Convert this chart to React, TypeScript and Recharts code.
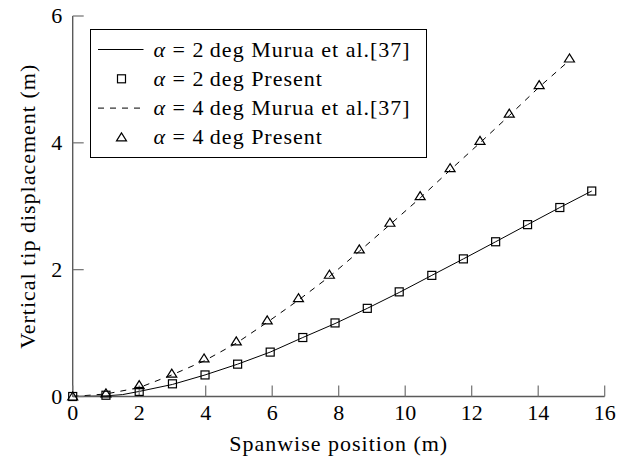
import React from 'react';
import { ComposedChart, Line, Scatter, XAxis, YAxis, Legend } from 'recharts';

// ---- data ----
const xTicks = [0, 2, 4, 6, 8, 10, 12, 14, 16];
const yTicks = [0, 2, 4, 6];

const present2X = [0, 1.0, 2.0, 3.0, 3.98, 4.96, 5.94, 6.92, 7.89, 8.86, 9.82, 10.8, 11.75, 12.72, 13.68, 14.65, 15.61];
const present2Y = [0, 0.02, 0.08, 0.2, 0.34, 0.51, 0.7, 0.93, 1.16, 1.39, 1.65, 1.91, 2.17, 2.44, 2.71, 2.98, 3.24];

const present4X = [0, 1.0, 2.0, 2.98, 3.95, 4.92, 5.85, 6.79, 7.72, 8.62, 9.54, 10.45, 11.35, 12.25, 13.13, 14.03, 14.94];
const present4Y = [0, 0.05, 0.18, 0.36, 0.6, 0.87, 1.2, 1.55, 1.92, 2.32, 2.74, 3.16, 3.6, 4.03, 4.46, 4.91, 5.33];

const murua2X = [0, 1.0, 1.5, 2.0, 3.0, 3.98, 4.96, 5.94, 6.92, 7.89, 8.86, 9.82, 10.8, 11.75, 12.72, 13.68, 14.65, 15.61];
const murua2Y = [0, 0.01, 0.03, 0.08, 0.19, 0.34, 0.51, 0.7, 0.93, 1.15, 1.39, 1.64, 1.91, 2.17, 2.44, 2.71, 2.98, 3.24];

const murua4X = [0, 1.0, 2.0, 2.98, 3.95, 4.92, 5.85, 6.79, 7.72, 8.62, 9.54, 10.45, 11.35, 12.25, 13.13, 14.03, 14.94];
const murua4Y = [0, 0.04, 0.14, 0.34, 0.56, 0.84, 1.17, 1.52, 1.89, 2.29, 2.71, 3.13, 3.57, 4.0, 4.43, 4.88, 5.3];

const seriesLabels = [
  'α = 2\u2009deg Murua et al.[37]',
  'α = 2\u2009deg Present',
  'α = 4\u2009deg Murua et al.[37]',
  'α = 4\u2009deg Present',
];
const xAxisTitle = 'Spanwise position (m)';
const yAxisTitle = 'Vertical tip displacement (m)';

const toPoints = (xs: number[], ys: number[]) => xs.map((x, i) => ({ x, y: ys[i] }));
const present2 = toPoints(present2X, present2Y);
const present4 = toPoints(present4X, present4Y);
const murua2 = toPoints(murua2X, murua2Y);
const murua4 = toPoints(murua4X, murua4Y);
// tick-mark anchors on the axes (drawn through the library's scales)
const xTickMarks = xTicks.map((x) => ({ x, y: 0 }));
const yTickMarks = yTicks.map((y) => ({ x: 0, y }));

// ---- styles ----
const FONT = 'Liberation Serif';
const FS = 22;
const LS = 1;
const AXIS = '#5a5a5a';
const TICK = '#707070';
const TICK_LEN = 11;
const textStyle: React.CSSProperties = { fontFamily: FONT, fontSize: FS };
const titleStyle: React.CSSProperties = { fontFamily: FONT, fontSize: FS, letterSpacing: LS };

const XTick = (props: any) => {
  const { x, y, payload } = props;
  return (
    <text x={x} y={y + 23} textAnchor="middle" style={textStyle} fill="#000">
      {payload.value}
    </text>
  );
};

const YTick = (props: any) => {
  const { x, y, payload } = props;
  return (
    <text x={x - 10.5} y={y + 7} textAnchor="end" style={textStyle} fill="#000">
      {payload.value}
    </text>
  );
};

const XTickMark = (p: any) => (
  <line x1={p.cx} y1={p.cy} x2={p.cx} y2={p.cy - TICK_LEN} stroke={TICK} strokeWidth={1.2} />
);
const YTickMark = (p: any) => (
  <line x1={p.cx} y1={p.cy} x2={p.cx + TICK_LEN} y2={p.cy} stroke={TICK} strokeWidth={1.2} />
);

const SquareMark = (p: any) => (
  <rect x={p.cx - 4} y={p.cy - 4} width={8} height={8} fill="none" stroke="#000" strokeWidth={1.2} />
);
const TriMark = (p: any) => (
  <polygon
    points={`${p.cx},${p.cy - 4.5} ${p.cx - 5},${p.cy + 3.5} ${p.cx + 5},${p.cy + 3.5}`}
    fill="none"
    stroke="#000"
    strokeWidth={1.2}
  />
);

const LabelText = ({ label }: { label: string }) => (
  <>
    <tspan fontStyle="italic">{label.charAt(0)}</tspan>
    <tspan>{label.slice(1)}</tspan>
  </>
);

const LegendBox = () => {
  const rowY = (i: number) => 20.5 + 29.3 * i;
  return (
    <svg width={338} height={130} style={{ display: 'block' }}>
      <rect x={0.5} y={0.5} width={336} height={128} fill="#fff" stroke="#000" strokeWidth={1} />
      {seriesLabels.map((lab, i) => {
        const cy = rowY(i);
        return (
          <g key={i}>
            {i === 0 && <line x1={8} y1={cy} x2={53.5} y2={cy} stroke="#000" strokeWidth={1} />}
            {i === 2 && (
              <line x1={8} y1={cy} x2={53.5} y2={cy} stroke="#000" strokeWidth={1} strokeDasharray="6 6" />
            )}
            {i === 1 && <SquareMark cx={31.5} cy={cy} />}
            {i === 3 && <TriMark cx={31.5} cy={cy} />}
            <text x={63.5} y={cy + 7} style={titleStyle} fill="#000">
              <LabelText label={lab} />
            </text>
          </g>
        );
      })}
    </svg>
  );
};

export default function App() {
  return (
    <div style={{ position: 'absolute', left: 0, top: 0, width: 617, height: 461, background: '#fff' }}>
      <ComposedChart
        width={617}
        height={461}
        margin={{ top: 16, right: 12.3, bottom: 0, left: 0 }}
      >
        <XAxis
          dataKey="x"
          type="number"
          domain={[0, 16]}
          ticks={xTicks}
          height={64.5}
          tickSize={0}
          tickMargin={0}
          tickLine={false}
          axisLine={{ stroke: AXIS, strokeWidth: 1.4 }}
          tick={<XTick />}
          interval={0}
          label={{
            content: (p: any) => {
              const vb = p.viewBox;
              return (
                <text
                  x={vb.x + vb.width / 2}
                  y={vb.y + 54.5}
                  textAnchor="middle"
                  style={titleStyle}
                  fill="#000"
                >
                  {xAxisTitle}
                </text>
              );
            },
          }}
        />
        <YAxis
          dataKey="y"
          type="number"
          domain={[0, 6]}
          ticks={yTicks}
          width={72.7}
          tickSize={0}
          tickMargin={0}
          tickLine={false}
          axisLine={{ stroke: AXIS, strokeWidth: 1.4 }}
          tick={<YTick />}
          interval={0}
          label={{
            content: (p: any) => {
              const vb = p.viewBox;
              const cx = vb.x + 35;
              const cy = vb.y + vb.height / 2;
              return (
                <text
                  x={cx}
                  y={cy}
                  transform={`rotate(-90, ${cx}, ${cy})`}
                  textAnchor="middle"
                  style={titleStyle}
                  fill="#000"
                >
                  {yAxisTitle}
                </text>
              );
            },
          }}
        />
        <Legend
          layout="vertical"
          verticalAlign="middle"
          align="center"
          wrapperStyle={{ left: 89.7, top: 28.7, width: 338, height: 130 }}
          content={() => <LegendBox />}
        />
        <Scatter data={xTickMarks} shape={<XTickMark />} isAnimationActive={false} legendType="none" />
        <Scatter data={yTickMarks} shape={<YTickMark />} isAnimationActive={false} legendType="none" />
        <Line
          data={murua2}
          dataKey="y"
          type="linear"
          stroke="#000"
          strokeWidth={1}
          dot={false}
          activeDot={false}
          isAnimationActive={false}
          name={seriesLabels[0]}
        />
        <Line
          data={murua4}
          dataKey="y"
          type="linear"
          stroke="#000"
          strokeWidth={1}
          strokeDasharray="6 6"
          dot={false}
          activeDot={false}
          isAnimationActive={false}
          name={seriesLabels[2]}
        />
        <Scatter
          data={present2}
          shape={<SquareMark />}
          isAnimationActive={false}
          name={seriesLabels[1]}
        />
        <Scatter
          data={present4}
          shape={<TriMark />}
          isAnimationActive={false}
          name={seriesLabels[3]}
        />
      </ComposedChart>
    </div>
  );
}
